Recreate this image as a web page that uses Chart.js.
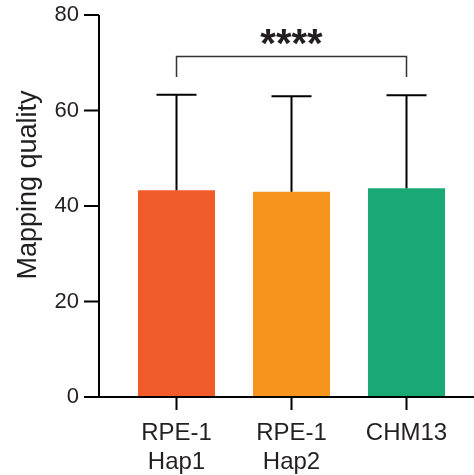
<!DOCTYPE html>
<html>
<head>
<meta charset="utf-8">
<script src="https://cdn.jsdelivr.net/npm/chart.js@4"></script>
<style>
  html, body { margin: 0; padding: 0; background: #fff; }
  #wrap { width: 474px; height: 475px; }
</style>
</head>
<body>
<div id="wrap"><canvas id="myChart" width="474" height="475"></canvas></div>
<script>
// data
var categories = [['RPE-1', 'Hap1'], ['RPE-1', 'Hap2'], 'CHM13'];
var means = [43.3, 43.0, 43.7];
var sds = [20.0, 20.0, 19.5];
var barColors = ['#F15A29', '#F7941D', '#1AA974'];
var yTicks = [0, 20, 40, 60, 80];
var yTitle = 'Mapping quality';
var sigPair = [0, 2];
var sigLevel = 71.3;
var sigLegLevel = 67;
var sigText = '****';

var fuente = 'Liberation Sans, Arial, sans-serif';
var tinta = '#231F20';

// axes, error bars, axis title and the significance bracket
var dibujoExtra = {
    id: 'dibujoExtra',
    afterDatasetsDraw(chart) {
        const c = chart.ctx;
        const area = chart.chartArea;
        const xs = chart.scales.x;
        const ys = chart.scales.y;
        const ejeX = area.left - 20;
        const base = ys.getPixelForValue(0);

        c.save();
        c.strokeStyle = '#000';
        c.lineWidth = 2;
        c.lineCap = 'butt';

        // error bars (upper only)
        for (let i = 0; i < means.length; i++) {
            const px = xs.getPixelForValue(i);
            const top = ys.getPixelForValue(means[i] + sds[i]);
            const m = ys.getPixelForValue(means[i]);
            c.beginPath();
            c.moveTo(px, m);
            c.lineTo(px, top);
            c.moveTo(px - 20, top);
            c.lineTo(px + 20, top);
            c.stroke();
        }

        // y axis line and ticks
        c.beginPath();
        c.moveTo(ejeX, ys.getPixelForValue(yTicks[yTicks.length - 1]));
        c.lineTo(ejeX, base + 1);
        for (const v of yTicks) {
            const py = ys.getPixelForValue(v);
            c.moveTo(ejeX - 15, py);
            c.lineTo(ejeX, py);
        }
        c.stroke();

        // x axis line and ticks
        c.beginPath();
        c.moveTo(ejeX, base);
        c.lineTo(chart.width, base);
        for (let i = 0; i < categories.length; i++) {
            const px = xs.getPixelForValue(i);
            c.moveTo(px, base);
            c.lineTo(px, base + 13);
        }
        c.stroke();

        // y axis title, a bit above the middle like the original
        c.save();
        c.translate(29, (area.top + area.bottom) / 2 - 21);
        c.rotate(-Math.PI / 2);
        c.fillStyle = tinta;
        c.font = '27px ' + fuente;
        c.textAlign = 'center';
        c.textBaseline = 'middle';
        c.fillText(yTitle, 0, 0);
        c.restore();

        // significance bracket
        const x1 = xs.getPixelForValue(sigPair[0]);
        const x2 = xs.getPixelForValue(sigPair[1]);
        const yb = ys.getPixelForValue(sigLevel);
        const yl = ys.getPixelForValue(sigLegLevel);
        c.strokeStyle = '#333';
        c.lineWidth = 1.5;
        c.beginPath();
        c.moveTo(x1, yl);
        c.lineTo(x1, yb);
        c.lineTo(x2, yb);
        c.lineTo(x2, yl);
        c.stroke();

        c.fillStyle = tinta;
        c.font = 'bold 40px ' + fuente;
        c.textAlign = 'center';
        c.textBaseline = 'middle';
        c.fillText(sigText, (x1 + x2) / 2, yb - 11);
        c.restore();
    }
};

const ctx = document.getElementById('myChart').getContext('2d');
const myChart = new Chart(ctx, {
    type: 'bar',
    data: {
        labels: categories,
        datasets: [{
            data: means,
            backgroundColor: barColors,
            borderWidth: 0,
            barPercentage: 0.67,
            categoryPercentage: 1
        }]
    },
    options: {
        responsive: false,
        animation: false,
        devicePixelRatio: 1,
        layout: { padding: { top: 15, right: 10, left: 0, bottom: 0 } },
        plugins: {
            legend: { display: false },
            tooltip: { enabled: false }
        },
        scales: {
            x: {
                grid: { display: false, drawTicks: false },
                border: { display: false },
                ticks: {
                    color: tinta,
                    padding: 22,
                    font: { family: fuente, size: 24 }
                },
                afterFit: function (s) { s.height = 78; }
            },
            y: {
                min: 0,
                max: 80,
                grid: { display: false, drawTicks: false },
                border: { display: false },
                afterBuildTicks: function (s) { s.ticks = yTicks.map(v => ({ value: v })); },
                ticks: {
                    color: tinta,
                    padding: 40,
                    font: { family: fuente, size: 22 }
                },
                afterFit: function (s) {
                    s.width = 119;
                    s.paddingTop = 0;
                    s.paddingBottom = 0;
                }
            }
        }
    },
    plugins: [dibujoExtra]
});
</script>
</body>
</html>
